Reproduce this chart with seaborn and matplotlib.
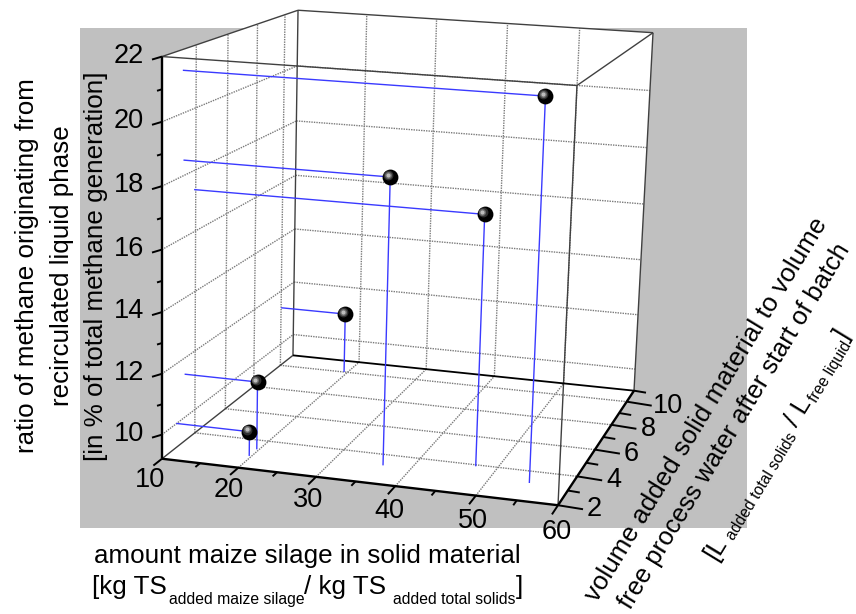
import numpy as np
import pandas as pd
import matplotlib
matplotlib.use('Agg')
import matplotlib.pyplot as plt
from matplotlib.patches import Rectangle, Polygon
import seaborn as sns

# values
maize_silage = [55.0, 36.4, 47.3, 19.5, 19.7, 19.7]
volume_ratio = [3.2, 3.25, 3.9, 10.0, 3.35, 2.85]
methane_ratio = [21.35, 18.5, 17.38, 11.37, 11.46, 10.01]

x_ticks = [10, 20, 30, 40, 50, 60]
y_ticks = [2, 4, 6, 8, 10]
z_ticks = [10, 12, 14, 16, 18, 20, 22]
x_lim = (10, 60)
y_lim = (2, 11)
z_lim = (9.2, 22)

sns.set_theme(style='white')
plt.rcParams['font.family'] = ['Liberation Sans', 'DejaVu Sans']
plt.rcParams['text.color'] = 'black'

# where the box corners sit in the picture, (x index, y index, z index) -> pixel
BOX_CORNERS = {
    (0, 0, 0): (162, 459), (1, 0, 0): (558, 505),
    (0, 1, 0): (293, 355), (1, 1, 0): (634, 391),
    (0, 0, 1): (162, 57), (1, 0, 1): (577, 85),
    (0, 1, 1): (298, 10), (1, 1, 1): (653, 33),
}


def fit_camera(corners):
    rows = []
    for (a, b, c), (u, v) in corners.items():
        rows.append([a, b, c, 1, 0, 0, 0, 0, -u * a, -u * b, -u * c, -u])
        rows.append([0, 0, 0, 0, a, b, c, 1, -v * a, -v * b, -v * c, -v])
    return np.linalg.svd(np.array(rows, dtype=float))[2][-1].reshape(3, 4)


CAM = fit_camera(BOX_CORNERS)


def project(x, y, z):
    """data values -> picture pixels, perspective of the box"""
    p = np.array([(x - x_lim[0]) / (x_lim[1] - x_lim[0]),
                  (y - y_lim[0]) / (y_lim[1] - y_lim[0]),
                  (z - z_lim[0]) / (z_lim[1] - z_lim[0]), 1.0])
    q = CAM @ p
    return q[0] / q[2], q[1] / q[2]


def seg(ax, a, b, **kw):
    pa, pb = project(*a), project(*b)
    ax.plot([pa[0], pb[0]], [pa[1], pb[1]], solid_capstyle='butt', **kw)


def rich_line(ax, start, angle, pieces):
    """text with lowered small parts; pieces are (string, size, drop, gap after)"""
    renderer = ax.figure.canvas.get_renderer()
    a = np.radians(angle)
    along = np.array([np.cos(a), -np.sin(a)])
    down = np.array([np.sin(a), np.cos(a)])
    pos = np.array(start, dtype=float)
    for s, size, drop, gap in pieces:
        x, y = pos + down * drop
        t = ax.text(x, y, s, fontsize=size, ha='left', va='baseline',
                    rotation=0, rotation_mode='anchor', zorder=9)
        w = t.get_window_extent(renderer).width
        t.set_rotation(angle)
        pos = pos + along * (w + gap)


fig = plt.figure(figsize=(8.56, 6.14), dpi=100)
ax = fig.add_axes([0, 0, 1, 1])
ax.set_xlim(0, 856)
ax.set_ylim(614, 0)
ax.axis('off')

ax.add_patch(Rectangle((80, 28), 667, 500, color='#c0c0c0', lw=0, zorder=0))

x0, x1 = x_lim
y0, y1 = y_lim
z0, z1 = z_lim

# white walls and floor
for face in ([(x0, y0, z0), (x0, y1, z0), (x0, y1, z1), (x0, y0, z1)],
             [(x0, y1, z0), (x1, y1, z0), (x1, y1, z1), (x0, y1, z1)],
             [(x0, y0, z0), (x1, y0, z0), (x1, y1, z0), (x0, y1, z0)],
             [(x0, y0, z0), (x1, y0, z0), (x1, y0, z1), (x0, y0, z1)]):
    ax.add_patch(Polygon([project(*c) for c in face], color='white', lw=0, zorder=1))

# dotted grid
grid = dict(color='#7a7a7a', lw=1.0, ls=(0, (1, 0.8)), zorder=2)
for x in x_ticks[1:-1]:
    seg(ax, (x, y0, z0), (x, y1, z0), **grid)
    seg(ax, (x, y1, z0), (x, y1, z1), **grid)
for y in y_ticks[1:]:
    seg(ax, (x0, y, z0), (x1, y, z0), **grid)
    seg(ax, (x0, y, z0), (x0, y, z1), **grid)
for z in z_ticks[:-1]:
    seg(ax, (x0, y0, z), (x0, y1, z), **grid)
    seg(ax, (x0, y1, z), (x1, y1, z), **grid)

# box outline
thin = dict(color='#404040', lw=1.0, zorder=3)
seg(ax, (x0, y0, z1), (x0, y1, z1), **thin)
seg(ax, (x0, y1, z1), (x1, y1, z1), **thin)
seg(ax, (x0, y1, z0), (x0, y1, z1), **thin)
seg(ax, (x1, y1, z0), (x1, y1, z1), **thin)
seg(ax, (x1, y0, z1), (x1, y1, z1), **thin)
seg(ax, (x0, y0, z1), (x1, y0, z1), **thin)
seg(ax, (x1, y0, z0), (x1, y0, z1), **thin)
seg(ax, (x0, y0, z0), (x0, y1, z0), **thin)
seg(ax, (x0, y1, z0), (x1, y1, z0), color='black', lw=1.3, zorder=3)

# blue guide lines to the left wall and the floor
blue = dict(color='#3a3aff', lw=1.0, zorder=4)
for x, y, z in zip(maize_silage, volume_ratio, methane_ratio):
    seg(ax, (x0, y, z), (x, y, z), **blue)
    seg(ax, (x, y, z0), (x, y, z), **blue)

# axes
axis = dict(color='black', lw=1.7, zorder=5)
seg(ax, (x0, y0, z0), (x1, y0, z0), **axis)
seg(ax, (x1, y0, z0), (x1, y1, z0), **axis)
seg(ax, (x0, y0, z0), (x0, y0, z1), **axis)

tick_font = 19.5
tick = dict(color='black', lw=1.4, zorder=5, solid_capstyle='butt')

for x in np.arange(10, 60.5, 5):
    px, py = project(x, y0, z0)
    qx, qy = project(x, y0 + 1, z0)
    d = np.array([px - qx, py - qy])
    d = d / np.hypot(*d) * (11 if x % 10 == 0 else 6)
    ax.plot([px, px + d[0]], [py, py + d[1]], **tick)
for i, x in enumerate(x_ticks):
    px, py = project(x, y0, z0)
    f = i / (len(x_ticks) - 1)
    ax.text(px - 12 + 11 * f, py + 21 + 6 * f, str(x), fontsize=tick_font,
            ha='center', va='center', zorder=6)

for y in np.arange(2, 11.5, 1):
    px, py = project(x0 + 50, y, z0)
    major = y in y_ticks
    ax.plot([px, px + (25 if major else 12)], [py, py + (4 if major else 2)], **tick)
    if major:
        ax.text(px + 29 - (3 if y == 10 else 0), py + 4, str(int(y)), fontsize=tick_font,
                ha='left', va='center', zorder=6)

for z in range(10, 23):
    px, py = project(x0, y0, z)
    major = z in z_ticks
    ax.plot([px, px - (10 if major else 5)], [py, py + (3 if major else 1.5)], **tick)
    if major:
        ax.text(px - 18, py - 1, str(z), fontsize=tick_font, ha='right', va='center', zorder=6)

# spheres
pts = [project(*p) for p in zip(maize_silage, volume_ratio, methane_ratio)]
df = pd.DataFrame(pts, columns=['px', 'py'])
sns.scatterplot(data=df, x='px', y='py', s=130, color='black', linewidth=0, ax=ax, zorder=7)
for size, shade, off in [(50, '#303030', 2.0), (26, '#686868', 2.2), (9, '#bcbcbc', 2.4)]:
    sns.scatterplot(x=df['px'] - off, y=df['py'] - off, s=size, color=shade, linewidth=0,
                    ax=ax, zorder=8)
ax.set_xlabel('')
ax.set_ylabel('')
ax.set_xlim(0, 856)
ax.set_ylim(614, 0)

# axis titles
label_font = 18.7
sub_font = 11.3
ax.text(307, 556, 'amount maize silage in solid material', fontsize=label_font, ha='center', va='center')
rich_line(ax, (92, 594), 0, [('[kg TS', label_font, 0, 2),
                             ('added maize silage', sub_font, 10, 0),
                             ('/ kg TS', label_font, 0, 6),
                             ('added total solids', sub_font, 10, 1),
                             (']', label_font, 0, 0)])

ax.text(27, 266, 'ratio of methane originating from', fontsize=label_font, rotation=90, ha='center', va='center')
ax.text(62, 266, 'recirculated liquid phase', fontsize=label_font, rotation=90, ha='center', va='center')
ax.text(96, 266, '[in % of total methane generation]', fontsize=label_font, rotation=90, ha='center', va='center')

ax.text(706, 410, 'volume added solid material to volume', fontsize=label_font, rotation=58.7,
        ha='center', va='center', rotation_mode='anchor')
ax.text(735, 426, 'free process water after start of batch', fontsize=18.4, rotation=58.7,
        ha='center', va='center', rotation_mode='anchor')
rich_line(ax, (716, 561), 58.7, [('[L', label_font, 0, 5),
                                 ('added total solids', sub_font, 5, 6),
                                 ('/ L', label_font, 0, 3),
                                 ('free liquid', sub_font, 4, 0),
                                 (']', label_font, -2, 0)])

fig.savefig('out.png', dpi=100)
plt.close()
